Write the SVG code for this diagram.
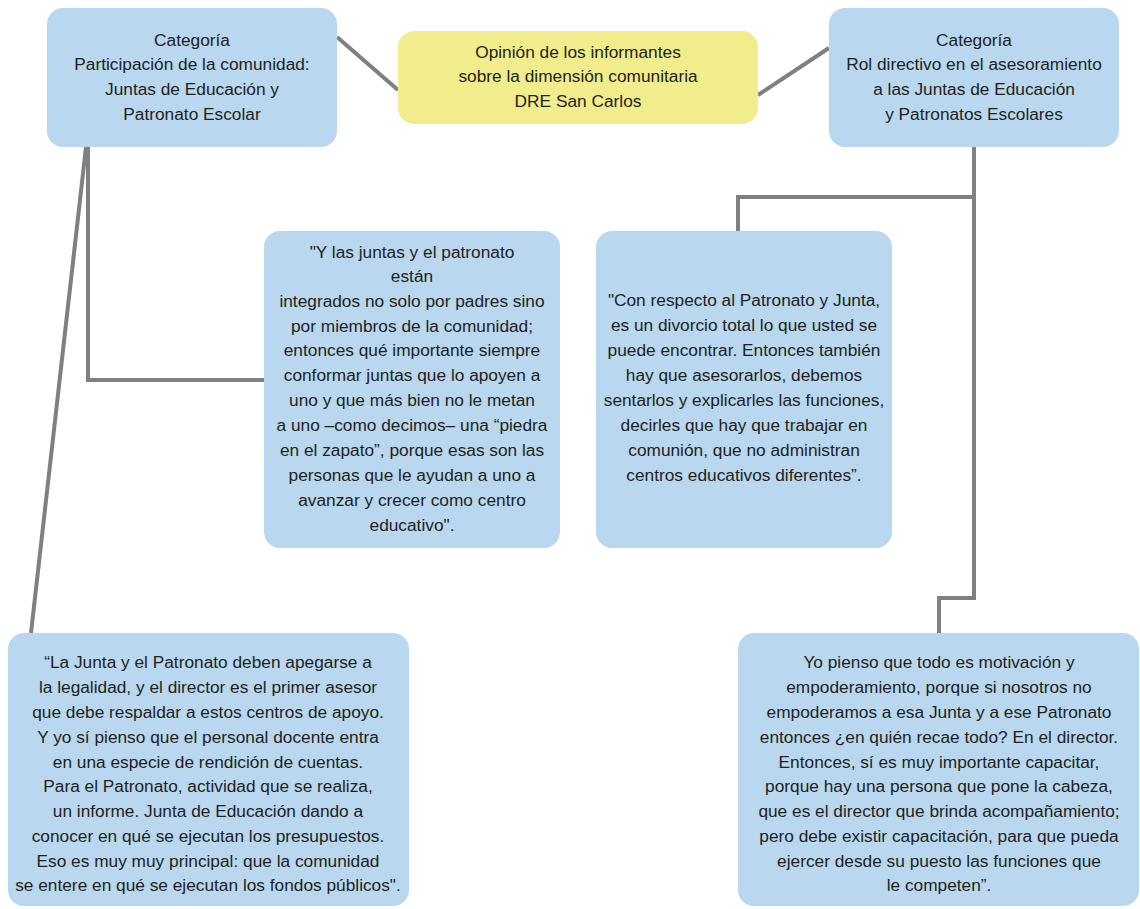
<svg xmlns="http://www.w3.org/2000/svg" width="1140" height="909" viewBox="0 0 1140 909">
<style>
.blue{fill:#b9d7ee;}
.yellow{fill:#f1ed8c;}
.t{font-family:"Liberation Sans",Arial,sans-serif;font-size:17.3px;fill:#231f20;text-anchor:middle;}
.c{fill:none;stroke:#808083;stroke-width:4;}
</style>
<rect width="1140" height="909" fill="#ffffff"/>
<g id="connectors">
<line class="c" x1="337" y1="37" x2="398" y2="90"/>
<line class="c" x1="758" y1="95" x2="829" y2="48"/>
<polyline class="c" points="88,147 88,380 264,380"/>
<line class="c" x1="86" y1="147" x2="31" y2="633"/>
<polyline class="c" points="974,147 974,598 939,598 939,633"/>
<polyline class="c" points="974,197 738,197 738,231"/>
</g>
<g id="cat-left">
<rect class="blue" x="47" y="8" width="290" height="139" rx="16"/>
<text class="t" x="192" y="46">Categoría</text>
<text class="t" x="192" y="70">Participación de la comunidad:</text>
<text class="t" x="192" y="95">Juntas de Educación y</text>
<text class="t" x="192" y="120">Patronato Escolar</text>
</g>
<g id="center">
<rect class="yellow" x="398" y="31" width="360" height="93" rx="16"/>
<text class="t" x="578" y="58">Opinión de los informantes</text>
<text class="t" x="578" y="82">sobre la dimensión comunitaria</text>
<text class="t" x="578" y="107">DRE San Carlos</text>
</g>
<g id="cat-right">
<rect class="blue" x="829" y="8" width="290" height="139" rx="16"/>
<text class="t" x="974" y="46">Categoría</text>
<text class="t" x="974" y="70">Rol directivo en el asesoramiento</text>
<text class="t" x="974" y="95">a las Juntas de Educación</text>
<text class="t" x="974" y="120">y Patronatos Escolares</text>
</g>
<g id="quote-mid-left">
<rect class="blue" x="264" y="231" width="296" height="317" rx="16"/>
<text class="t" x="412" y="258">"Y las juntas y el patronato</text>
<text class="t" x="412" y="282">están</text>
<text class="t" x="412" y="307">integrados no solo por padres sino</text>
<text class="t" x="412" y="332">por miembros de la comunidad;</text>
<text class="t" x="412" y="356">entonces qué importante siempre</text>
<text class="t" x="412" y="381">conformar juntas que lo apoyen a</text>
<text class="t" x="412" y="406">uno y que más bien no le metan</text>
<text class="t" x="412" y="431">a uno –como decimos– una “piedra</text>
<text class="t" x="412" y="456">en el zapato”, porque esas son las</text>
<text class="t" x="412" y="481">personas que le ayudan a uno a</text>
<text class="t" x="412" y="506">avanzar y crecer como centro</text>
<text class="t" x="412" y="531">educativo".</text>
</g>
<g id="quote-mid-right">
<rect class="blue" x="596" y="231" width="296" height="317" rx="16"/>
<text class="t" x="744" y="306">"Con respecto al Patronato y Junta,</text>
<text class="t" x="744" y="331">es un divorcio total lo que usted se</text>
<text class="t" x="744" y="356">puede encontrar. Entonces también</text>
<text class="t" x="744" y="381">hay que asesorarlos, debemos</text>
<text class="t" x="744" y="406">sentarlos y explicarles las funciones,</text>
<text class="t" x="744" y="431">decirles que hay que trabajar en</text>
<text class="t" x="744" y="456">comunión, que no administran</text>
<text class="t" x="744" y="481">centros educativos diferentes”.</text>
</g>
<g id="quote-bottom-left">
<rect class="blue" x="8" y="633" width="401" height="273" rx="16"/>
<text class="t" x="208" y="668">“La Junta y el Patronato deben apegarse a</text>
<text class="t" x="208" y="693">la legalidad, y el director es el primer asesor</text>
<text class="t" x="208" y="718">que debe respaldar a estos centros de apoyo.</text>
<text class="t" x="208" y="743">Y yo sí pienso que el personal docente entra</text>
<text class="t" x="208" y="768">en una especie de rendición de cuentas.</text>
<text class="t" x="208" y="792">Para el Patronato, actividad que se realiza,</text>
<text class="t" x="208" y="817">un informe. Junta de Educación dando a</text>
<text class="t" x="208" y="842">conocer en qué se ejecutan los presupuestos.</text>
<text class="t" x="208" y="867">Eso es muy muy principal: que la comunidad</text>
<text class="t" x="208" y="891">se entere en qué se ejecutan los fondos públicos".</text>
</g>
<g id="quote-bottom-right">
<rect class="blue" x="738" y="633" width="401" height="273" rx="16"/>
<text class="t" x="939" y="668">Yo pienso que todo es motivación y</text>
<text class="t" x="939" y="693">empoderamiento, porque si nosotros no</text>
<text class="t" x="939" y="718">empoderamos a esa Junta y a ese Patronato</text>
<text class="t" x="939" y="743">entonces ¿en quién recae todo? En el director.</text>
<text class="t" x="939" y="768">Entonces, sí es muy importante capacitar,</text>
<text class="t" x="939" y="792">porque hay una persona que pone la cabeza,</text>
<text class="t" x="939" y="817">que es el director que brinda acompañamiento;</text>
<text class="t" x="939" y="842">pero debe existir capacitación, para que pueda</text>
<text class="t" x="939" y="867">ejercer desde su puesto las funciones que</text>
<text class="t" x="939" y="891">le competen”.</text>
</g>
</svg>
